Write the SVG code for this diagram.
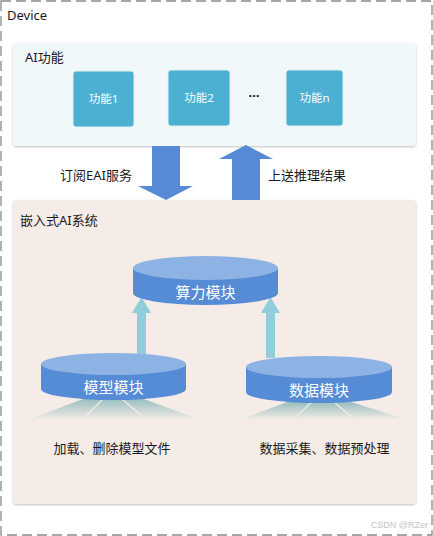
<svg xmlns="http://www.w3.org/2000/svg" width="433" height="536" viewBox="0 0 433 536">
<defs>
<style>
.t{font-family:"Noto Sans","Noto Sans CJK SC",sans-serif;fill:#1a1a1a;font-size:13px}
.w{font-family:"Noto Sans","Noto Sans CJK SC",sans-serif;fill:#ffffff}
.fbox{fill:#4bb0d2;stroke:#e3eef2;stroke-width:1}
.big{fill:#568ad6}
.lb{fill:#92cddc}
.side{fill:#568bd5}
.top{fill:#8db2e4}
.ray{stroke:#f3ebe4;stroke-width:1.2}
</style>
<linearGradient id="fan" x1="0" y1="0" x2="0" y2="1">
<stop offset="0" stop-color="#93bcbd"/>
<stop offset="1" stop-color="#f5ece7"/>
</linearGradient>
<filter id="sh" x="-5%" y="-5%" width="110%" height="115%">
<feDropShadow dx="0" dy="1" stdDeviation="0.8" flood-color="#000" flood-opacity="0.25"/>
</filter>
</defs>
<rect width="433" height="536" fill="#ffffff"/>
<g id="device">
<rect x="1" y="1" width="431" height="534" fill="none" stroke="#8a8a8a" stroke-width="1.3" stroke-dasharray="10,5"/>
<text class="t" x="7" y="20">Device</text>
</g>
<g id="ai-panel">
<rect x="13" y="43" width="403" height="103" rx="4" fill="#f0f8fa" filter="url(#sh)"/>
<text class="t" x="25" y="62">AI功能</text>
</g>
<g id="func1">
<rect class="fbox" x="73" y="71" width="61" height="56" rx="3"/>
<text class="w" x="103.5" y="103" font-size="11.5" text-anchor="middle">功能1</text>
</g>
<g id="func2">
<rect class="fbox" x="168" y="70" width="62" height="56" rx="3"/>
<text class="w" x="199" y="102" font-size="11.5" text-anchor="middle">功能2</text>
</g>
<g id="dots">
<text class="t" x="254" y="97" text-anchor="middle" font-size="14" font-weight="bold">…</text>
</g>
<g id="funcn">
<rect class="fbox" x="286" y="70" width="57" height="56" rx="3"/>
<text class="w" x="314.5" y="102" font-size="11.5" text-anchor="middle">功能n</text>
</g>
<g id="sys-panel">
<rect x="13" y="200" width="403" height="304" rx="4" fill="#f5ece7" filter="url(#sh)"/>
<text class="t" x="20" y="225">嵌入式AI系统</text>
</g>
<g id="connectors">
<polygon class="big" points="152,146 180,146 180,186 193,186 166,200 138,186 152,186"/>
<text class="t" x="60" y="180" font-size="13.5">订阅EAI服务</text>
<polygon class="big" points="246,145 273,159 260,159 260,200 232,200 232,159 219,159"/>
<text class="t" x="268" y="180" font-size="13.5">上送推理结果</text>
<polygon class="lb" points="141.5,297 151,313 146,313 146,356 137,356 137,313 132,313"/>
<polygon class="lb" points="270.5,297 280,313 275,313 275,358 266,358 266,313 261,313"/>
</g>
<g id="compute">
<path class="side" d="M133,268 L278,268 L278,293 A72.5,12 0 0 1 133,293 Z"/>
<ellipse class="top" cx="205.5" cy="268" rx="72.5" ry="12"/>
<text class="w" x="205.5" y="298" font-size="15" text-anchor="middle">算力模块</text>
</g>
<g id="model">
<polygon points="86,398 141,398 201,420 27,420" fill="url(#fan)"/>
<line class="ray" x1="102" y1="400" x2="82" y2="420"/>
<line class="ray" x1="123" y1="400" x2="147" y2="420"/>
<path class="side" d="M41,364 L186,364 L186,389 A72.5,11 0 0 1 41,389 Z"/>
<ellipse class="top" cx="113.5" cy="364" rx="72.5" ry="11"/>
<text class="w" x="113.5" y="393" font-size="15" text-anchor="middle">模型模块</text>
<text class="t" x="112" y="453" font-size="14" text-anchor="middle">加载、删除模型文件</text>
</g>
<g id="data">
<polygon points="290,401 348,401 408,420 239,420" fill="url(#fan)"/>
<line class="ray" x1="312" y1="402" x2="292" y2="420"/>
<line class="ray" x1="334" y1="402" x2="355" y2="420"/>
<path class="side" d="M246,367 L392,367 L392,392 A73,11 0 0 1 246,392 Z"/>
<ellipse class="top" cx="319" cy="367" rx="73" ry="11"/>
<text class="w" x="319" y="396" font-size="15" text-anchor="middle">数据模块</text>
<text class="t" x="324.5" y="453" font-size="14" text-anchor="middle">数据采集、数据预处理</text>
</g>
<text x="428" y="528" text-anchor="end" font-family="Liberation Sans,sans-serif" font-size="9" fill="#c4c4c4">CSDN @RZer</text>
</svg>
